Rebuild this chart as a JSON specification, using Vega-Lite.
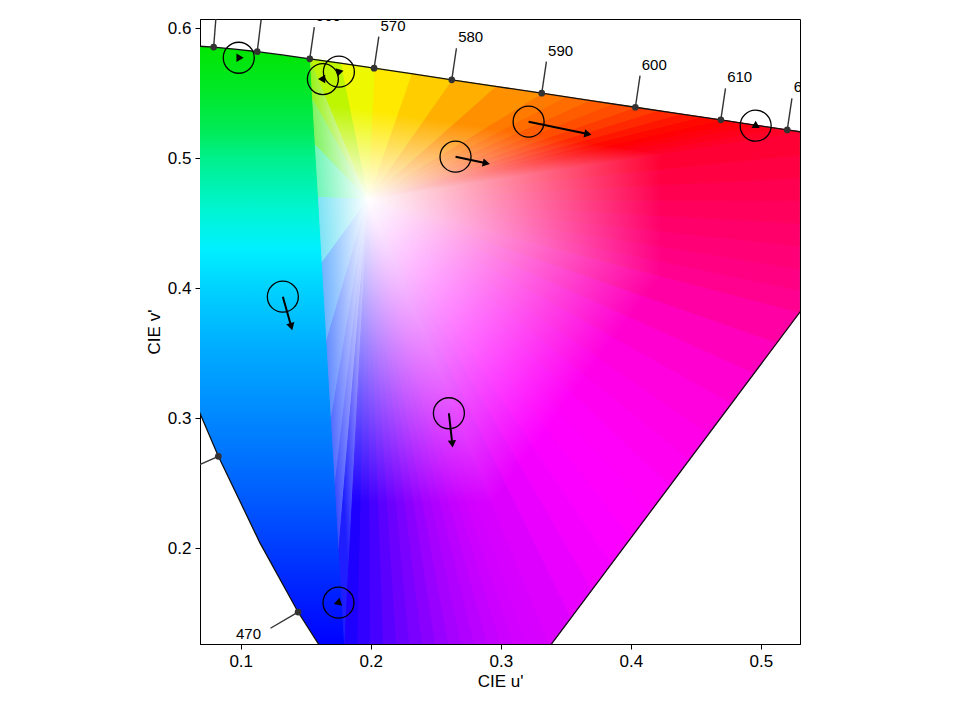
{
"$schema":"https://vega.github.io/schema/vega-lite/v6.json",
"width":600,"height":625,
"autosize":{"type":"none"},
"padding":{"left":200,"top":19,"right":162,"bottom":64},
"background":"white",
"config":{
 "view":{"stroke":"#000","strokeWidth":1},
 "axis":{"domainColor":"#000","domainWidth":1,"tickColor":"#000","tickSize":5,"labelColor":"#000","titleColor":"#000","labelFont":"Liberation Sans","titleFont":"Liberation Sans","labelFontSize":17,"titleFontSize":17,"titleFontWeight":"normal","grid":false,"labelPadding":4,"titlePadding":4}
},
"datasets":{
 "region":[
  {"u":0.066,"v":0.5865,"v2":0.3101},{"u":0.0792,"v":0.5856,"v2":0.2792},{"u":0.0828,"v":0.5853,"v2":0.2708},{"u":0.0953,"v":0.5841,"v2":0.2448},{"u":0.1127,"v":0.5821,"v2":0.2086},{"u":0.1147,"v":0.5818,"v2":0.2044},{"u":0.1319,"v":0.5796,"v2":0.1732},{"u":0.1441,"v":0.5779,"v2":0.151},{"u":0.1531,"v":0.5766,"v2":0.1369},{"u":0.1607,"v":0.5755,"v2":0.125},{"u":0.1766,"v":0.5732,"v2":0.125},{"u":0.2026,"v":0.5694,"v2":0.125},{"u":0.2312,"v":0.5651,"v2":0.125},{"u":0.2623,"v":0.5604,"v2":0.125},{"u":0.296,"v":0.5554,"v2":0.125},{"u":0.3315,"v":0.5501,"v2":0.125},{"u":0.3379,"v":0.5491,"v2":0.125},{"u":0.3681,"v":0.5446,"v2":0.1654},{"u":0.4035,"v":0.5393,"v2":0.2127},{"u":0.4379,"v":0.5342,"v2":0.2586},{"u":0.4692,"v":0.5296,"v2":0.3005},{"u":0.4968,"v":0.5254,"v2":0.3373},{"u":0.5203,"v":0.5219,"v2":0.3687},{"u":0.532,"v":0.5202,"v2":0.3844}
 ],
 "tri":[
  {"t":0,"k":0,"u":0.1978,"v":0.4683},{"t":0,"k":1,"u":0.1535,"v":0.5766},{"t":0,"k":2,"u":0.1554,"v":0.545},
  {"t":1,"k":0,"u":0.1978,"v":0.4683},{"t":1,"k":1,"u":0.1554,"v":0.545},{"t":1,"k":2,"u":0.1574,"v":0.51},
  {"t":2,"k":0,"u":0.1978,"v":0.4683},{"t":2,"k":1,"u":0.1574,"v":0.51},{"t":2,"k":2,"u":0.1598,"v":0.47},
  {"t":3,"k":0,"u":0.1978,"v":0.4683},{"t":3,"k":1,"u":0.1598,"v":0.47},{"t":3,"k":2,"u":0.1627,"v":0.42},
  {"t":4,"k":0,"u":0.1978,"v":0.4683},{"t":4,"k":1,"u":0.1627,"v":0.42},{"t":4,"k":2,"u":0.1662,"v":0.36},
  {"t":5,"k":0,"u":0.1978,"v":0.4683},{"t":5,"k":1,"u":0.1662,"v":0.36},{"t":5,"k":2,"u":0.1697,"v":0.3},
  {"t":6,"k":0,"u":0.1978,"v":0.4683},{"t":6,"k":1,"u":0.1697,"v":0.3},{"t":6,"k":2,"u":0.1727,"v":0.25},
  {"t":7,"k":0,"u":0.1978,"v":0.4683},{"t":7,"k":1,"u":0.1727,"v":0.25},{"t":7,"k":2,"u":0.1756,"v":0.2},
  {"t":8,"k":0,"u":0.1978,"v":0.4683},{"t":8,"k":1,"u":0.1756,"v":0.2},{"t":8,"k":2,"u":0.18,"v":0.125},
  {"t":9,"k":0,"u":0.1978,"v":0.4683},{"t":9,"k":1,"u":0.18,"v":0.125},{"t":9,"k":2,"u":0.19,"v":0.125},
  {"t":10,"k":0,"u":0.1978,"v":0.4683},{"t":10,"k":1,"u":0.19,"v":0.125},{"t":10,"k":2,"u":0.2,"v":0.125},
  {"t":11,"k":0,"u":0.1978,"v":0.4683},{"t":11,"k":1,"u":0.2,"v":0.125},{"t":11,"k":2,"u":0.21,"v":0.125},
  {"t":12,"k":0,"u":0.1978,"v":0.4683},{"t":12,"k":1,"u":0.21,"v":0.125},{"t":12,"k":2,"u":0.22,"v":0.125},
  {"t":13,"k":0,"u":0.1978,"v":0.4683},{"t":13,"k":1,"u":0.22,"v":0.125},{"t":13,"k":2,"u":0.23,"v":0.125},
  {"t":14,"k":0,"u":0.1978,"v":0.4683},{"t":14,"k":1,"u":0.23,"v":0.125},{"t":14,"k":2,"u":0.24,"v":0.125},
  {"t":15,"k":0,"u":0.1978,"v":0.4683},{"t":15,"k":1,"u":0.24,"v":0.125},{"t":15,"k":2,"u":0.25,"v":0.125},
  {"t":16,"k":0,"u":0.1978,"v":0.4683},{"t":16,"k":1,"u":0.25,"v":0.125},{"t":16,"k":2,"u":0.26,"v":0.125},
  {"t":17,"k":0,"u":0.1978,"v":0.4683},{"t":17,"k":1,"u":0.26,"v":0.125},{"t":17,"k":2,"u":0.27,"v":0.125},
  {"t":18,"k":0,"u":0.1978,"v":0.4683},{"t":18,"k":1,"u":0.27,"v":0.125},{"t":18,"k":2,"u":0.28,"v":0.125},
  {"t":19,"k":0,"u":0.1978,"v":0.4683},{"t":19,"k":1,"u":0.28,"v":0.125},{"t":19,"k":2,"u":0.29,"v":0.125},
  {"t":20,"k":0,"u":0.1978,"v":0.4683},{"t":20,"k":1,"u":0.29,"v":0.125},{"t":20,"k":2,"u":0.3,"v":0.125},
  {"t":21,"k":0,"u":0.1978,"v":0.4683},{"t":21,"k":1,"u":0.3,"v":0.125},{"t":21,"k":2,"u":0.31,"v":0.125},
  {"t":22,"k":0,"u":0.1978,"v":0.4683},{"t":22,"k":1,"u":0.31,"v":0.125},{"t":22,"k":2,"u":0.32,"v":0.125},
  {"t":23,"k":0,"u":0.1978,"v":0.4683},{"t":23,"k":1,"u":0.32,"v":0.125},{"t":23,"k":2,"u":0.329,"v":0.125},
  {"t":24,"k":0,"u":0.1978,"v":0.4683},{"t":24,"k":1,"u":0.329,"v":0.125},{"t":24,"k":2,"u":0.3379,"v":0.125},
  {"t":25,"k":0,"u":0.1978,"v":0.4683},{"t":25,"k":1,"u":0.3379,"v":0.125},{"t":25,"k":2,"u":0.354,"v":0.1465},
  {"t":26,"k":0,"u":0.1978,"v":0.4683},{"t":26,"k":1,"u":0.354,"v":0.1465},{"t":26,"k":2,"u":0.37,"v":0.1679},
  {"t":27,"k":0,"u":0.1978,"v":0.4683},{"t":27,"k":1,"u":0.37,"v":0.1679},{"t":27,"k":2,"u":0.385,"v":0.1879},
  {"t":28,"k":0,"u":0.1978,"v":0.4683},{"t":28,"k":1,"u":0.385,"v":0.1879},{"t":28,"k":2,"u":0.4,"v":0.208},
  {"t":29,"k":0,"u":0.1978,"v":0.4683},{"t":29,"k":1,"u":0.4,"v":0.208},{"t":29,"k":2,"u":0.415,"v":0.228},
  {"t":30,"k":0,"u":0.1978,"v":0.4683},{"t":30,"k":1,"u":0.415,"v":0.228},{"t":30,"k":2,"u":0.43,"v":0.2481},
  {"t":31,"k":0,"u":0.1978,"v":0.4683},{"t":31,"k":1,"u":0.43,"v":0.2481},{"t":31,"k":2,"u":0.445,"v":0.2681},
  {"t":32,"k":0,"u":0.1978,"v":0.4683},{"t":32,"k":1,"u":0.445,"v":0.2681},{"t":32,"k":2,"u":0.46,"v":0.2881},
  {"t":33,"k":0,"u":0.1978,"v":0.4683},{"t":33,"k":1,"u":0.46,"v":0.2881},{"t":33,"k":2,"u":0.4775,"v":0.3116},
  {"t":34,"k":0,"u":0.1978,"v":0.4683},{"t":34,"k":1,"u":0.4775,"v":0.3116},{"t":34,"k":2,"u":0.495,"v":0.3349},
  {"t":35,"k":0,"u":0.1978,"v":0.4683},{"t":35,"k":1,"u":0.495,"v":0.3349},{"t":35,"k":2,"u":0.5125,"v":0.3583},
  {"t":36,"k":0,"u":0.1978,"v":0.4683},{"t":36,"k":1,"u":0.5125,"v":0.3583},{"t":36,"k":2,"u":0.53,"v":0.3817},
  {"t":37,"k":0,"u":0.1978,"v":0.4683},{"t":37,"k":1,"u":0.53,"v":0.3817},{"t":37,"k":2,"u":0.53,"v":0.3983},
  {"t":38,"k":0,"u":0.1978,"v":0.4683},{"t":38,"k":1,"u":0.53,"v":0.3983},{"t":38,"k":2,"u":0.53,"v":0.415},
  {"t":39,"k":0,"u":0.1978,"v":0.4683},{"t":39,"k":1,"u":0.53,"v":0.415},{"t":39,"k":2,"u":0.53,"v":0.4325},
  {"t":40,"k":0,"u":0.1978,"v":0.4683},{"t":40,"k":1,"u":0.53,"v":0.4325},{"t":40,"k":2,"u":0.53,"v":0.45},
  {"t":41,"k":0,"u":0.1978,"v":0.4683},{"t":41,"k":1,"u":0.53,"v":0.45},{"t":41,"k":2,"u":0.53,"v":0.4675},
  {"t":42,"k":0,"u":0.1978,"v":0.4683},{"t":42,"k":1,"u":0.53,"v":0.4675},{"t":42,"k":2,"u":0.53,"v":0.485},
  {"t":43,"k":0,"u":0.1978,"v":0.4683},{"t":43,"k":1,"u":0.53,"v":0.485},{"t":43,"k":2,"u":0.53,"v":0.50275},
  {"t":44,"k":0,"u":0.1978,"v":0.4683},{"t":44,"k":1,"u":0.53,"v":0.50275},{"t":44,"k":2,"u":0.53,"v":0.5205},
  {"t":45,"k":0,"u":0.1978,"v":0.4683},{"t":45,"k":1,"u":0.53,"v":0.5205},{"t":45,"k":2,"u":0.5134,"v":0.5229},
  {"t":46,"k":0,"u":0.1978,"v":0.4683},{"t":46,"k":1,"u":0.5134,"v":0.5229},{"t":46,"k":2,"u":0.4968,"v":0.5254},
  {"t":47,"k":0,"u":0.1978,"v":0.4683},{"t":47,"k":1,"u":0.4968,"v":0.5254},{"t":47,"k":2,"u":0.483,"v":0.5275},
  {"t":48,"k":0,"u":0.1978,"v":0.4683},{"t":48,"k":1,"u":0.483,"v":0.5275},{"t":48,"k":2,"u":0.4692,"v":0.5296},
  {"t":49,"k":0,"u":0.1978,"v":0.4683},{"t":49,"k":1,"u":0.4692,"v":0.5296},{"t":49,"k":2,"u":0.45355,"v":0.5319},
  {"t":50,"k":0,"u":0.1978,"v":0.4683},{"t":50,"k":1,"u":0.45355,"v":0.5319},{"t":50,"k":2,"u":0.4379,"v":0.5342},
  {"t":51,"k":0,"u":0.1978,"v":0.4683},{"t":51,"k":1,"u":0.4379,"v":0.5342},{"t":51,"k":2,"u":0.4207,"v":0.53675},
  {"t":52,"k":0,"u":0.1978,"v":0.4683},{"t":52,"k":1,"u":0.4207,"v":0.53675},{"t":52,"k":2,"u":0.4035,"v":0.5393},
  {"t":53,"k":0,"u":0.1978,"v":0.4683},{"t":53,"k":1,"u":0.4035,"v":0.5393},{"t":53,"k":2,"u":0.3858,"v":0.54195},
  {"t":54,"k":0,"u":0.1978,"v":0.4683},{"t":54,"k":1,"u":0.3858,"v":0.54195},{"t":54,"k":2,"u":0.3681,"v":0.5446},
  {"t":55,"k":0,"u":0.1978,"v":0.4683},{"t":55,"k":1,"u":0.3681,"v":0.5446},{"t":55,"k":2,"u":0.3498,"v":0.54735},
  {"t":56,"k":0,"u":0.1978,"v":0.4683},{"t":56,"k":1,"u":0.3498,"v":0.54735},{"t":56,"k":2,"u":0.3315,"v":0.5501},
  {"t":57,"k":0,"u":0.1978,"v":0.4683},{"t":57,"k":1,"u":0.3315,"v":0.5501},{"t":57,"k":2,"u":0.296,"v":0.5554},
  {"t":58,"k":0,"u":0.1978,"v":0.4683},{"t":58,"k":1,"u":0.296,"v":0.5554},{"t":58,"k":2,"u":0.2623,"v":0.5604},
  {"t":59,"k":0,"u":0.1978,"v":0.4683},{"t":59,"k":1,"u":0.2623,"v":0.5604},{"t":59,"k":2,"u":0.2312,"v":0.5651},
  {"t":60,"k":0,"u":0.1978,"v":0.4683},{"t":60,"k":1,"u":0.2312,"v":0.5651},{"t":60,"k":2,"u":0.2026,"v":0.5694},
  {"t":61,"k":0,"u":0.1978,"v":0.4683},{"t":61,"k":1,"u":0.2026,"v":0.5694},{"t":61,"k":2,"u":0.1766,"v":0.5732},
  {"t":62,"k":0,"u":0.1978,"v":0.4683},{"t":62,"k":1,"u":0.1766,"v":0.5732},{"t":62,"k":2,"u":0.1535,"v":0.5766}
 ],
 "locus":[
  {"wl":455,"u":0.2033,"v":0.0688},{"wl":460,"u":0.1877,"v":0.0871},{"wl":465,"u":0.169,"v":0.112},{"wl":470,"u":0.1441,"v":0.151},{"wl":475,"u":0.1147,"v":0.2044},{"wl":480,"u":0.0828,"v":0.2708},{"wl":485,"u":0.0521,"v":0.3427},{"wl":490,"u":0.0282,"v":0.4117},{"wl":495,"u":0.0119,"v":0.4698},{"wl":500,"u":0.0035,"v":0.5131},{"wl":505,"u":0.0014,"v":0.5432},{"wl":510,"u":0.0046,"v":0.5638},{"wl":515,"u":0.0123,"v":0.577},{"wl":520,"u":0.0231,"v":0.5837},{"wl":525,"u":0.036,"v":0.5861},{"wl":530,"u":0.0501,"v":0.5868},{"wl":535,"u":0.0643,"v":0.5865},{"wl":540,"u":0.0792,"v":0.5856},{"wl":545,"u":0.0953,"v":0.5841},{"wl":550,"u":0.1127,"v":0.5821},{"wl":555,"u":0.1319,"v":0.5796},{"wl":560,"u":0.1531,"v":0.5766},{"wl":565,"u":0.1766,"v":0.5732},{"wl":570,"u":0.2026,"v":0.5694},{"wl":575,"u":0.2312,"v":0.5651},{"wl":580,"u":0.2623,"v":0.5604},{"wl":585,"u":0.296,"v":0.5554},{"wl":590,"u":0.3315,"v":0.5501},{"wl":595,"u":0.3681,"v":0.5446},{"wl":600,"u":0.4035,"v":0.5393},{"wl":605,"u":0.4379,"v":0.5342},{"wl":610,"u":0.4692,"v":0.5296},{"wl":615,"u":0.4968,"v":0.5254},{"wl":620,"u":0.5203,"v":0.5219},{"wl":625,"u":0.5399,"v":0.519},{"wl":630,"u":0.5565,"v":0.5165}
 ],
 "purple":[{"wl":380,"u":0.2568,"v":0.0166},{"wl":700,"u":0.6234,"v":0.5065}],
 "ticks":[
  {"wl":470,"u":0.1441,"v":0.151,"u2":0.1229,"v2":0.1385,"lu":0.1156,"lv":0.1342},
  {"wl":480,"u":0.0828,"v":0.2708,"u2":0.0604,"v2":0.2607,"lu":0.0526,"lv":0.2572},
  {"wl":540,"u":0.0792,"v":0.5856,"u2":0.0811,"v2":0.6101,"lu":0.0817,"lv":0.6186},
  {"wl":550,"u":0.1127,"v":0.5821,"u2":0.1157,"v2":0.6065,"lu":0.1167,"lv":0.6149},
  {"wl":560,"u":0.1531,"v":0.5766,"u2":0.1566,"v2":0.601,"lu":0.1578,"lv":0.6094},
  {"wl":570,"u":0.2026,"v":0.5694,"u2":0.2062,"v2":0.5937,"lu":0.2075,"lv":0.6021},
  {"wl":580,"u":0.2623,"v":0.5604,"u2":0.2659,"v2":0.5847,"lu":0.2672,"lv":0.5931},
  {"wl":590,"u":0.3315,"v":0.5501,"u2":0.3351,"v2":0.5744,"lu":0.3364,"lv":0.5828},
  {"wl":600,"u":0.4035,"v":0.5393,"u2":0.4071,"v2":0.5636,"lu":0.4084,"lv":0.572},
  {"wl":610,"u":0.4692,"v":0.5296,"u2":0.4728,"v2":0.5539,"lu":0.4741,"lv":0.5623},
  {"wl":620,"u":0.5203,"v":0.5219,"u2":0.5239,"v2":0.5462,"lu":0.5252,"lv":0.5546}
 ],
 "arrows":[
  {"u":0.0985,"v":0.5774,"u2":0.0995,"v2":0.5774},
  {"u":0.1632,"v":0.561,"u2":0.1622,"v2":0.561},
  {"u":0.1755,"v":0.5667,"u2":0.1752,"v2":0.5657},
  {"u":0.3214,"v":0.5282,"u2":0.367,"v2":0.5187},
  {"u":0.496,"v":0.5251,"u2":0.496,"v2":0.5261},
  {"u":0.2652,"v":0.5013,"u2":0.2889,"v2":0.4962},
  {"u":0.1324,"v":0.3936,"u2":0.1389,"v2":0.3705},
  {"u":0.2601,"v":0.3039,"u2":0.2627,"v2":0.2803},
  {"u":0.1752,"v":0.1582,"u2":0.1754,"v2":0.1592}
 ]
},
"encoding":{
 "x":{"field":"u","type":"quantitative","title":"CIE u'","scale":{"domain":[0.0687,0.5301],"nice":false,"zero":false},"axis":{"values":[0.1,0.2,0.3,0.4,0.5],"format":".1f"}},
 "y":{"field":"v","type":"quantitative","title":"CIE v'","scale":{"domain":[0.1264,0.6072],"nice":false,"zero":false},"axis":{"values":[0.2,0.3,0.4,0.5,0.6],"format":".1f"}}
},
"layer":[
 {"data":{"name":"region"},"mark":{"type":"area","clip":true,"fill":{"gradient":"linear","x1":0,"y1":0,"x2":0,"y2":1,"stops":[{"offset":0,"color":"#00e600"},{"offset":0.079,"color":"#00e82a"},{"offset":0.144,"color":"#00eb5a"},{"offset":0.187,"color":"#00f08c"},{"offset":0.274,"color":"#00f5d2"},{"offset":0.339,"color":"#00f0ff"},{"offset":0.404,"color":"#00d2ff"},{"offset":0.512,"color":"#00aaff"},{"offset":0.621,"color":"#0087ff"},{"offset":0.729,"color":"#0064ff"},{"offset":0.838,"color":"#003cff"},{"offset":0.946,"color":"#0014ff"},{"offset":1,"color":"#0000ff"}]}},"encoding":{"y2":{"field":"v2"}}},
 {"data":{"name":"tri"},"transform":[{"filter":"datum.t==0"}],"mark":{"type":"line","clip":true,"interpolate":"linear-closed","strokeWidth":1,"fill":{"gradient":"linear","x1":1,"y1":1,"x2":0.165,"y2":1.123,"stops":[{"offset":0,"color":"#ffffff"},{"offset":1,"color":"#9bf01e"}]},"stroke":{"gradient":"linear","x1":1,"y1":1,"x2":0.165,"y2":1.123,"stops":[{"offset":0,"color":"#ffffff"},{"offset":1,"color":"#9bf01e"}]}},"encoding":{"order":{"field":"k","type":"quantitative"}}},
 {"data":{"name":"tri"},"transform":[{"filter":"datum.t==1"}],"mark":{"type":"line","clip":true,"interpolate":"linear-closed","strokeWidth":1,"fill":{"gradient":"linear","x1":1,"y1":1,"x2":0.113,"y2":1.092,"stops":[{"offset":0,"color":"#ffffff"},{"offset":1,"color":"#82f364"}]},"stroke":{"gradient":"linear","x1":1,"y1":1,"x2":0.113,"y2":1.092,"stops":[{"offset":0,"color":"#ffffff"},{"offset":1,"color":"#82f364"}]}},"encoding":{"order":{"field":"k","type":"quantitative"}}},
 {"data":{"name":"tri"},"transform":[{"filter":"datum.t==2"}],"mark":{"type":"line","clip":true,"interpolate":"linear-closed","strokeWidth":1,"fill":{"gradient":"linear","x1":1,"y1":1,"x2":0.0655,"y2":1.058,"stops":[{"offset":0,"color":"#ffffff"},{"offset":1,"color":"#73f5b9"}]},"stroke":{"gradient":"linear","x1":1,"y1":1,"x2":0.0655,"y2":1.058,"stops":[{"offset":0,"color":"#ffffff"},{"offset":1,"color":"#73f5b9"}]}},"encoding":{"order":{"field":"k","type":"quantitative"}}},
 {"data":{"name":"tri"},"transform":[{"filter":"datum.t==3"}],"mark":{"type":"line","clip":true,"interpolate":"linear-closed","strokeWidth":1,"fill":{"gradient":"linear","x1":1,"y1":0.034,"x2":0.0084,"y2":0.1097,"stops":[{"offset":0,"color":"#ffffff"},{"offset":1,"color":"#7fe3f5"}]},"stroke":{"gradient":"linear","x1":1,"y1":0.034,"x2":0.0084,"y2":0.1097,"stops":[{"offset":0,"color":"#ffffff"},{"offset":1,"color":"#7fe3f5"}]}},"encoding":{"order":{"field":"k","type":"quantitative"}}},
 {"data":{"name":"tri"},"transform":[{"filter":"datum.t==4"}],"mark":{"type":"line","clip":true,"interpolate":"linear-closed","strokeWidth":1,"fill":{"gradient":"linear","x1":1,"y1":0,"x2":-0.046,"y2":0.188,"stops":[{"offset":0,"color":"#ffffff"},{"offset":1,"color":"#73b4ff"}]},"stroke":{"gradient":"linear","x1":1,"y1":0,"x2":-0.046,"y2":0.188,"stops":[{"offset":0,"color":"#ffffff"},{"offset":1,"color":"#73b4ff"}]}},"encoding":{"order":{"field":"k","type":"quantitative"}}},
 {"data":{"name":"tri"},"transform":[{"filter":"datum.t==5"}],"mark":{"type":"line","clip":true,"interpolate":"linear-closed","strokeWidth":1,"fill":{"gradient":"linear","x1":1,"y1":0,"x2":-0.094,"y2":0.34,"stops":[{"offset":0,"color":"#ffffff"},{"offset":1,"color":"#668eff"}]},"stroke":{"gradient":"linear","x1":1,"y1":0,"x2":-0.094,"y2":0.34,"stops":[{"offset":0,"color":"#ffffff"},{"offset":1,"color":"#668eff"}]}},"encoding":{"order":{"field":"k","type":"quantitative"}}},
 {"data":{"name":"tri"},"transform":[{"filter":"datum.t==6"}],"mark":{"type":"line","clip":true,"interpolate":"linear-closed","strokeWidth":1,"fill":{"gradient":"linear","x1":1,"y1":0,"x2":-0.117,"y2":0.521,"stops":[{"offset":0,"color":"#ffffff"},{"offset":1,"color":"#556eff"}]},"stroke":{"gradient":"linear","x1":1,"y1":0,"x2":-0.117,"y2":0.521,"stops":[{"offset":0,"color":"#ffffff"},{"offset":1,"color":"#556eff"}]}},"encoding":{"order":{"field":"k","type":"quantitative"}}},
 {"data":{"name":"tri"},"transform":[{"filter":"datum.t==7"}],"mark":{"type":"line","clip":true,"interpolate":"linear-closed","strokeWidth":1,"fill":{"gradient":"linear","x1":1,"y1":0,"x2":-0.087,"y2":0.673,"stops":[{"offset":0,"color":"#ffffff"},{"offset":1,"color":"#3e4eff"}]},"stroke":{"gradient":"linear","x1":1,"y1":0,"x2":-0.087,"y2":0.673,"stops":[{"offset":0,"color":"#ffffff"},{"offset":1,"color":"#3e4eff"}]}},"encoding":{"order":{"field":"k","type":"quantitative"}}},
 {"data":{"name":"tri"},"transform":[{"filter":"datum.t==8"}],"mark":{"type":"line","clip":true,"interpolate":"linear-closed","strokeWidth":1,"fill":{"gradient":"linear","x1":1,"y1":0,"x2":0.062,"y2":0.85,"stops":[{"offset":0,"color":"#ffffff"},{"offset":0.85,"color":"#1e1eff"}]},"stroke":{"gradient":"linear","x1":1,"y1":0,"x2":0.062,"y2":0.85,"stops":[{"offset":0,"color":"#ffffff"},{"offset":0.85,"color":"#1e1eff"}]}},"encoding":{"order":{"field":"k","type":"quantitative"}}},
 {"data":{"name":"tri"},"transform":[{"filter":"datum.t==9"}],"mark":{"type":"line","clip":true,"interpolate":"linear-closed","strokeWidth":1,"fill":{"gradient":"linear","x1":0,"y1":0,"x2":0,"y2":1,"stops":[{"offset":0,"color":"#ffffff"},{"offset":0.68,"color":"#1e00ff"}]},"stroke":{"gradient":"linear","x1":0,"y1":0,"x2":0,"y2":1,"stops":[{"offset":0,"color":"#ffffff"},{"offset":0.68,"color":"#1e00ff"}]}},"encoding":{"order":{"field":"k","type":"quantitative"}}},
 {"data":{"name":"tri"},"transform":[{"filter":"datum.t==10"}],"mark":{"type":"line","clip":true,"interpolate":"linear-closed","strokeWidth":1,"fill":{"gradient":"linear","x1":0,"y1":0,"x2":0,"y2":1,"stops":[{"offset":0,"color":"#ffffff"},{"offset":0.68,"color":"#3200ff"}]},"stroke":{"gradient":"linear","x1":0,"y1":0,"x2":0,"y2":1,"stops":[{"offset":0,"color":"#ffffff"},{"offset":0.68,"color":"#3200ff"}]}},"encoding":{"order":{"field":"k","type":"quantitative"}}},
 {"data":{"name":"tri"},"transform":[{"filter":"datum.t==11"}],"mark":{"type":"line","clip":true,"interpolate":"linear-closed","strokeWidth":1,"fill":{"gradient":"linear","x1":0,"y1":0,"x2":0,"y2":1,"stops":[{"offset":0,"color":"#ffffff"},{"offset":0.68,"color":"#4600ff"}]},"stroke":{"gradient":"linear","x1":0,"y1":0,"x2":0,"y2":1,"stops":[{"offset":0,"color":"#ffffff"},{"offset":0.68,"color":"#4600ff"}]}},"encoding":{"order":{"field":"k","type":"quantitative"}}},
 {"data":{"name":"tri"},"transform":[{"filter":"datum.t==12"}],"mark":{"type":"line","clip":true,"interpolate":"linear-closed","strokeWidth":1,"fill":{"gradient":"linear","x1":0,"y1":0,"x2":0,"y2":1,"stops":[{"offset":0,"color":"#ffffff"},{"offset":0.68,"color":"#5a00ff"}]},"stroke":{"gradient":"linear","x1":0,"y1":0,"x2":0,"y2":1,"stops":[{"offset":0,"color":"#ffffff"},{"offset":0.68,"color":"#5a00ff"}]}},"encoding":{"order":{"field":"k","type":"quantitative"}}},
 {"data":{"name":"tri"},"transform":[{"filter":"datum.t==13"}],"mark":{"type":"line","clip":true,"interpolate":"linear-closed","strokeWidth":1,"fill":{"gradient":"linear","x1":0,"y1":0,"x2":0,"y2":1,"stops":[{"offset":0,"color":"#ffffff"},{"offset":0.68,"color":"#6c00ff"}]},"stroke":{"gradient":"linear","x1":0,"y1":0,"x2":0,"y2":1,"stops":[{"offset":0,"color":"#ffffff"},{"offset":0.68,"color":"#6c00ff"}]}},"encoding":{"order":{"field":"k","type":"quantitative"}}},
 {"data":{"name":"tri"},"transform":[{"filter":"datum.t==14"}],"mark":{"type":"line","clip":true,"interpolate":"linear-closed","strokeWidth":1,"fill":{"gradient":"linear","x1":0,"y1":0,"x2":0,"y2":1,"stops":[{"offset":0,"color":"#ffffff"},{"offset":0.68,"color":"#7a00ff"}]},"stroke":{"gradient":"linear","x1":0,"y1":0,"x2":0,"y2":1,"stops":[{"offset":0,"color":"#ffffff"},{"offset":0.68,"color":"#7a00ff"}]}},"encoding":{"order":{"field":"k","type":"quantitative"}}},
 {"data":{"name":"tri"},"transform":[{"filter":"datum.t==15"}],"mark":{"type":"line","clip":true,"interpolate":"linear-closed","strokeWidth":1,"fill":{"gradient":"linear","x1":0,"y1":0,"x2":0,"y2":1,"stops":[{"offset":0,"color":"#ffffff"},{"offset":0.68,"color":"#8a00ff"}]},"stroke":{"gradient":"linear","x1":0,"y1":0,"x2":0,"y2":1,"stops":[{"offset":0,"color":"#ffffff"},{"offset":0.68,"color":"#8a00ff"}]}},"encoding":{"order":{"field":"k","type":"quantitative"}}},
 {"data":{"name":"tri"},"transform":[{"filter":"datum.t==16"}],"mark":{"type":"line","clip":true,"interpolate":"linear-closed","strokeWidth":1,"fill":{"gradient":"linear","x1":0,"y1":0,"x2":0,"y2":1,"stops":[{"offset":0,"color":"#ffffff"},{"offset":0.68,"color":"#9800ff"}]},"stroke":{"gradient":"linear","x1":0,"y1":0,"x2":0,"y2":1,"stops":[{"offset":0,"color":"#ffffff"},{"offset":0.68,"color":"#9800ff"}]}},"encoding":{"order":{"field":"k","type":"quantitative"}}},
 {"data":{"name":"tri"},"transform":[{"filter":"datum.t==17"}],"mark":{"type":"line","clip":true,"interpolate":"linear-closed","strokeWidth":1,"fill":{"gradient":"linear","x1":0,"y1":0,"x2":0,"y2":1,"stops":[{"offset":0,"color":"#ffffff"},{"offset":0.68,"color":"#a600ff"}]},"stroke":{"gradient":"linear","x1":0,"y1":0,"x2":0,"y2":1,"stops":[{"offset":0,"color":"#ffffff"},{"offset":0.68,"color":"#a600ff"}]}},"encoding":{"order":{"field":"k","type":"quantitative"}}},
 {"data":{"name":"tri"},"transform":[{"filter":"datum.t==18"}],"mark":{"type":"line","clip":true,"interpolate":"linear-closed","strokeWidth":1,"fill":{"gradient":"linear","x1":0,"y1":0,"x2":0,"y2":1,"stops":[{"offset":0,"color":"#ffffff"},{"offset":0.68,"color":"#b000ff"}]},"stroke":{"gradient":"linear","x1":0,"y1":0,"x2":0,"y2":1,"stops":[{"offset":0,"color":"#ffffff"},{"offset":0.68,"color":"#b000ff"}]}},"encoding":{"order":{"field":"k","type":"quantitative"}}},
 {"data":{"name":"tri"},"transform":[{"filter":"datum.t==19"}],"mark":{"type":"line","clip":true,"interpolate":"linear-closed","strokeWidth":1,"fill":{"gradient":"linear","x1":0,"y1":0,"x2":0,"y2":1,"stops":[{"offset":0,"color":"#ffffff"},{"offset":0.68,"color":"#ba00ff"}]},"stroke":{"gradient":"linear","x1":0,"y1":0,"x2":0,"y2":1,"stops":[{"offset":0,"color":"#ffffff"},{"offset":0.68,"color":"#ba00ff"}]}},"encoding":{"order":{"field":"k","type":"quantitative"}}},
 {"data":{"name":"tri"},"transform":[{"filter":"datum.t==20"}],"mark":{"type":"line","clip":true,"interpolate":"linear-closed","strokeWidth":1,"fill":{"gradient":"linear","x1":0,"y1":0,"x2":0,"y2":1,"stops":[{"offset":0,"color":"#ffffff"},{"offset":0.68,"color":"#c400ff"}]},"stroke":{"gradient":"linear","x1":0,"y1":0,"x2":0,"y2":1,"stops":[{"offset":0,"color":"#ffffff"},{"offset":0.68,"color":"#c400ff"}]}},"encoding":{"order":{"field":"k","type":"quantitative"}}},
 {"data":{"name":"tri"},"transform":[{"filter":"datum.t==21"}],"mark":{"type":"line","clip":true,"interpolate":"linear-closed","strokeWidth":1,"fill":{"gradient":"linear","x1":0,"y1":0,"x2":0,"y2":1,"stops":[{"offset":0,"color":"#ffffff"},{"offset":0.68,"color":"#cb00ff"}]},"stroke":{"gradient":"linear","x1":0,"y1":0,"x2":0,"y2":1,"stops":[{"offset":0,"color":"#ffffff"},{"offset":0.68,"color":"#cb00ff"}]}},"encoding":{"order":{"field":"k","type":"quantitative"}}},
 {"data":{"name":"tri"},"transform":[{"filter":"datum.t==22"}],"mark":{"type":"line","clip":true,"interpolate":"linear-closed","strokeWidth":1,"fill":{"gradient":"linear","x1":0,"y1":0,"x2":0,"y2":1,"stops":[{"offset":0,"color":"#ffffff"},{"offset":0.68,"color":"#d100ff"}]},"stroke":{"gradient":"linear","x1":0,"y1":0,"x2":0,"y2":1,"stops":[{"offset":0,"color":"#ffffff"},{"offset":0.68,"color":"#d100ff"}]}},"encoding":{"order":{"field":"k","type":"quantitative"}}},
 {"data":{"name":"tri"},"transform":[{"filter":"datum.t==23"}],"mark":{"type":"line","clip":true,"interpolate":"linear-closed","strokeWidth":1,"fill":{"gradient":"linear","x1":0,"y1":0,"x2":0,"y2":1,"stops":[{"offset":0,"color":"#ffffff"},{"offset":0.68,"color":"#d500ff"}]},"stroke":{"gradient":"linear","x1":0,"y1":0,"x2":0,"y2":1,"stops":[{"offset":0,"color":"#ffffff"},{"offset":0.68,"color":"#d500ff"}]}},"encoding":{"order":{"field":"k","type":"quantitative"}}},
 {"data":{"name":"tri"},"transform":[{"filter":"datum.t==24"}],"mark":{"type":"line","clip":true,"interpolate":"linear-closed","strokeWidth":1,"fill":{"gradient":"linear","x1":0,"y1":0,"x2":0,"y2":1,"stops":[{"offset":0,"color":"#ffffff"},{"offset":0.68,"color":"#d700ff"}]},"stroke":{"gradient":"linear","x1":0,"y1":0,"x2":0,"y2":1,"stops":[{"offset":0,"color":"#ffffff"},{"offset":0.68,"color":"#d700ff"}]}},"encoding":{"order":{"field":"k","type":"quantitative"}}},
 {"data":{"name":"tri"},"transform":[{"filter":"datum.t==25"}],"mark":{"type":"line","clip":true,"interpolate":"linear-closed","strokeWidth":1,"fill":{"gradient":"linear","x1":0,"y1":0,"x2":0.685,"y2":1.129,"stops":[{"offset":0,"color":"#ffffff"},{"offset":0.68,"color":"#de00ff"}]},"stroke":{"gradient":"linear","x1":0,"y1":0,"x2":0.685,"y2":1.129,"stops":[{"offset":0,"color":"#ffffff"},{"offset":0.68,"color":"#de00ff"}]}},"encoding":{"order":{"field":"k","type":"quantitative"}}},
 {"data":{"name":"tri"},"transform":[{"filter":"datum.t==26"}],"mark":{"type":"line","clip":true,"interpolate":"linear-closed","strokeWidth":1,"fill":{"gradient":"linear","x1":0,"y1":0,"x2":0.78,"y2":1.091,"stops":[{"offset":0,"color":"#ffffff"},{"offset":0.68,"color":"#ea00ff"}]},"stroke":{"gradient":"linear","x1":0,"y1":0,"x2":0.78,"y2":1.091,"stops":[{"offset":0,"color":"#ffffff"},{"offset":0.68,"color":"#ea00ff"}]}},"encoding":{"order":{"field":"k","type":"quantitative"}}},
 {"data":{"name":"tri"},"transform":[{"filter":"datum.t==27"}],"mark":{"type":"line","clip":true,"interpolate":"linear-closed","strokeWidth":1,"fill":{"gradient":"linear","x1":0,"y1":0,"x2":0.868,"y2":1.044,"stops":[{"offset":0,"color":"#ffffff"},{"offset":0.68,"color":"#f400ff"}]},"stroke":{"gradient":"linear","x1":0,"y1":0,"x2":0.868,"y2":1.044,"stops":[{"offset":0,"color":"#ffffff"},{"offset":0.68,"color":"#f400ff"}]}},"encoding":{"order":{"field":"k","type":"quantitative"}}},
 {"data":{"name":"tri"},"transform":[{"filter":"datum.t==28"}],"mark":{"type":"line","clip":true,"interpolate":"linear-closed","strokeWidth":1,"fill":{"gradient":"linear","x1":0,"y1":0,"x2":0.947,"y2":0.98,"stops":[{"offset":0,"color":"#ffffff"},{"offset":0.68,"color":"#fc00ff"}]},"stroke":{"gradient":"linear","x1":0,"y1":0,"x2":0.947,"y2":0.98,"stops":[{"offset":0,"color":"#ffffff"},{"offset":0.68,"color":"#fc00ff"}]}},"encoding":{"order":{"field":"k","type":"quantitative"}}},
 {"data":{"name":"tri"},"transform":[{"filter":"datum.t==29"}],"mark":{"type":"line","clip":true,"interpolate":"linear-closed","strokeWidth":1,"fill":{"gradient":"linear","x1":0,"y1":0,"x2":1.012,"y2":0.91,"stops":[{"offset":0,"color":"#ffffff"},{"offset":0.68,"color":"#ff00fc"}]},"stroke":{"gradient":"linear","x1":0,"y1":0,"x2":1.012,"y2":0.91,"stops":[{"offset":0,"color":"#ffffff"},{"offset":0.68,"color":"#ff00fc"}]}},"encoding":{"order":{"field":"k","type":"quantitative"}}},
 {"data":{"name":"tri"},"transform":[{"filter":"datum.t==30"}],"mark":{"type":"line","clip":true,"interpolate":"linear-closed","strokeWidth":1,"fill":{"gradient":"linear","x1":0,"y1":0,"x2":1.07,"y2":0.826,"stops":[{"offset":0,"color":"#ffffff"},{"offset":0.68,"color":"#ff00f8"}]},"stroke":{"gradient":"linear","x1":0,"y1":0,"x2":1.07,"y2":0.826,"stops":[{"offset":0,"color":"#ffffff"},{"offset":0.68,"color":"#ff00f8"}]}},"encoding":{"order":{"field":"k","type":"quantitative"}}},
 {"data":{"name":"tri"},"transform":[{"filter":"datum.t==31"}],"mark":{"type":"line","clip":true,"interpolate":"linear-closed","strokeWidth":1,"fill":{"gradient":"linear","x1":0,"y1":0,"x2":1.111,"y2":0.743,"stops":[{"offset":0,"color":"#ffffff"},{"offset":0.68,"color":"#ff00f1"}]},"stroke":{"gradient":"linear","x1":0,"y1":0,"x2":1.111,"y2":0.743,"stops":[{"offset":0,"color":"#ffffff"},{"offset":0.68,"color":"#ff00f1"}]}},"encoding":{"order":{"field":"k","type":"quantitative"}}},
 {"data":{"name":"tri"},"transform":[{"filter":"datum.t==32"}],"mark":{"type":"line","clip":true,"interpolate":"linear-closed","strokeWidth":1,"fill":{"gradient":"linear","x1":0,"y1":0,"x2":1.141,"y2":0.653,"stops":[{"offset":0,"color":"#ffffff"},{"offset":0.68,"color":"#ff00e8"}]},"stroke":{"gradient":"linear","x1":0,"y1":0,"x2":1.141,"y2":0.653,"stops":[{"offset":0,"color":"#ffffff"},{"offset":0.68,"color":"#ff00e8"}]}},"encoding":{"order":{"field":"k","type":"quantitative"}}},
 {"data":{"name":"tri"},"transform":[{"filter":"datum.t==33"}],"mark":{"type":"line","clip":true,"interpolate":"linear-closed","strokeWidth":1,"fill":{"gradient":"linear","x1":0,"y1":0,"x2":1.152,"y2":0.553,"stops":[{"offset":0,"color":"#ffffff"},{"offset":0.68,"color":"#ff00de"}]},"stroke":{"gradient":"linear","x1":0,"y1":0,"x2":1.152,"y2":0.553,"stops":[{"offset":0,"color":"#ffffff"},{"offset":0.68,"color":"#ff00de"}]}},"encoding":{"order":{"field":"k","type":"quantitative"}}},
 {"data":{"name":"tri"},"transform":[{"filter":"datum.t==34"}],"mark":{"type":"line","clip":true,"interpolate":"linear-closed","strokeWidth":1,"fill":{"gradient":"linear","x1":0,"y1":0,"x2":1.156,"y2":0.458,"stops":[{"offset":0,"color":"#ffffff"},{"offset":0.68,"color":"#ff00d0"}]},"stroke":{"gradient":"linear","x1":0,"y1":0,"x2":1.156,"y2":0.458,"stops":[{"offset":0,"color":"#ffffff"},{"offset":0.68,"color":"#ff00d0"}]}},"encoding":{"order":{"field":"k","type":"quantitative"}}},
 {"data":{"name":"tri"},"transform":[{"filter":"datum.t==35"}],"mark":{"type":"line","clip":true,"interpolate":"linear-closed","strokeWidth":1,"fill":{"gradient":"linear","x1":0,"y1":0,"x2":1.146,"y2":0.363,"stops":[{"offset":0,"color":"#ffffff"},{"offset":0.68,"color":"#ff00bd"}]},"stroke":{"gradient":"linear","x1":0,"y1":0,"x2":1.146,"y2":0.363,"stops":[{"offset":0,"color":"#ffffff"},{"offset":0.68,"color":"#ff00bd"}]}},"encoding":{"order":{"field":"k","type":"quantitative"}}},
 {"data":{"name":"tri"},"transform":[{"filter":"datum.t==36"}],"mark":{"type":"line","clip":true,"interpolate":"linear-closed","strokeWidth":1,"fill":{"gradient":"linear","x1":0,"y1":0,"x2":1.126,"y2":0.279,"stops":[{"offset":0,"color":"#ffffff"},{"offset":0.68,"color":"#ff00a4"}]},"stroke":{"gradient":"linear","x1":0,"y1":0,"x2":1.126,"y2":0.279,"stops":[{"offset":0,"color":"#ffffff"},{"offset":0.68,"color":"#ff00a4"}]}},"encoding":{"order":{"field":"k","type":"quantitative"}}},
 {"data":{"name":"tri"},"transform":[{"filter":"datum.t==37"}],"mark":{"type":"line","clip":true,"interpolate":"linear-closed","strokeWidth":1,"fill":{"gradient":"linear","x1":0,"y1":0.5,"x2":1,"y2":0.5,"stops":[{"offset":0,"color":"#ffffff"},{"offset":0.68,"color":"#ff008f"}]},"stroke":{"gradient":"linear","x1":0,"y1":0.5,"x2":1,"y2":0.5,"stops":[{"offset":0,"color":"#ffffff"},{"offset":0.68,"color":"#ff008f"}]}},"encoding":{"order":{"field":"k","type":"quantitative"}}},
 {"data":{"name":"tri"},"transform":[{"filter":"datum.t==38"}],"mark":{"type":"line","clip":true,"interpolate":"linear-closed","strokeWidth":1,"fill":{"gradient":"linear","x1":0,"y1":0.5,"x2":1,"y2":0.5,"stops":[{"offset":0,"color":"#ffffff"},{"offset":0.68,"color":"#ff0083"}]},"stroke":{"gradient":"linear","x1":0,"y1":0.5,"x2":1,"y2":0.5,"stops":[{"offset":0,"color":"#ffffff"},{"offset":0.68,"color":"#ff0083"}]}},"encoding":{"order":{"field":"k","type":"quantitative"}}},
 {"data":{"name":"tri"},"transform":[{"filter":"datum.t==39"}],"mark":{"type":"line","clip":true,"interpolate":"linear-closed","strokeWidth":1,"fill":{"gradient":"linear","x1":0,"y1":0.5,"x2":1,"y2":0.5,"stops":[{"offset":0,"color":"#ffffff"},{"offset":0.68,"color":"#ff0076"}]},"stroke":{"gradient":"linear","x1":0,"y1":0.5,"x2":1,"y2":0.5,"stops":[{"offset":0,"color":"#ffffff"},{"offset":0.68,"color":"#ff0076"}]}},"encoding":{"order":{"field":"k","type":"quantitative"}}},
 {"data":{"name":"tri"},"transform":[{"filter":"datum.t==40"}],"mark":{"type":"line","clip":true,"interpolate":"linear-closed","strokeWidth":1,"fill":{"gradient":"linear","x1":0,"y1":0.5,"x2":1,"y2":0.5,"stops":[{"offset":0,"color":"#ffffff"},{"offset":0.68,"color":"#ff006a"}]},"stroke":{"gradient":"linear","x1":0,"y1":0.5,"x2":1,"y2":0.5,"stops":[{"offset":0,"color":"#ffffff"},{"offset":0.68,"color":"#ff006a"}]}},"encoding":{"order":{"field":"k","type":"quantitative"}}},
 {"data":{"name":"tri"},"transform":[{"filter":"datum.t==41"}],"mark":{"type":"line","clip":true,"interpolate":"linear-closed","strokeWidth":1,"fill":{"gradient":"linear","x1":0,"y1":0.5,"x2":1,"y2":0.5,"stops":[{"offset":0,"color":"#ffffff"},{"offset":0.68,"color":"#ff005d"}]},"stroke":{"gradient":"linear","x1":0,"y1":0.5,"x2":1,"y2":0.5,"stops":[{"offset":0,"color":"#ffffff"},{"offset":0.68,"color":"#ff005d"}]}},"encoding":{"order":{"field":"k","type":"quantitative"}}},
 {"data":{"name":"tri"},"transform":[{"filter":"datum.t==42"}],"mark":{"type":"line","clip":true,"interpolate":"linear-closed","strokeWidth":1,"fill":{"gradient":"linear","x1":0,"y1":0.5,"x2":1,"y2":0.5,"stops":[{"offset":0,"color":"#ffffff"},{"offset":0.68,"color":"#ff0051"}]},"stroke":{"gradient":"linear","x1":0,"y1":0.5,"x2":1,"y2":0.5,"stops":[{"offset":0,"color":"#ffffff"},{"offset":0.68,"color":"#ff0051"}]}},"encoding":{"order":{"field":"k","type":"quantitative"}}},
 {"data":{"name":"tri"},"transform":[{"filter":"datum.t==43"}],"mark":{"type":"line","clip":true,"interpolate":"linear-closed","strokeWidth":1,"fill":{"gradient":"linear","x1":0,"y1":0.5,"x2":1,"y2":0.5,"stops":[{"offset":0,"color":"#ffffff"},{"offset":0.68,"color":"#ff0043"}]},"stroke":{"gradient":"linear","x1":0,"y1":0.5,"x2":1,"y2":0.5,"stops":[{"offset":0,"color":"#ffffff"},{"offset":0.68,"color":"#ff0043"}]}},"encoding":{"order":{"field":"k","type":"quantitative"}}},
 {"data":{"name":"tri"},"transform":[{"filter":"datum.t==44"}],"mark":{"type":"line","clip":true,"interpolate":"linear-closed","strokeWidth":1,"fill":{"gradient":"linear","x1":0,"y1":0.5,"x2":1,"y2":0.5,"stops":[{"offset":0,"color":"#ffffff"},{"offset":0.68,"color":"#ff0034"}]},"stroke":{"gradient":"linear","x1":0,"y1":0.5,"x2":1,"y2":0.5,"stops":[{"offset":0,"color":"#ffffff"},{"offset":0.68,"color":"#ff0034"}]}},"encoding":{"order":{"field":"k","type":"quantitative"}}},
 {"data":{"name":"tri"},"transform":[{"filter":"datum.t==45"}],"mark":{"type":"line","clip":true,"interpolate":"linear-closed","strokeWidth":1,"fill":{"gradient":"linear","x1":0,"y1":1,"x2":0.91,"y2":-0.035,"stops":[{"offset":0,"color":"#ffffff"},{"offset":0.68,"color":"#ff0026"}]},"stroke":{"gradient":"linear","x1":0,"y1":1,"x2":0.91,"y2":-0.035,"stops":[{"offset":0,"color":"#ffffff"},{"offset":0.68,"color":"#ff0026"}]}},"encoding":{"order":{"field":"k","type":"quantitative"}}},
 {"data":{"name":"tri"},"transform":[{"filter":"datum.t==46"}],"mark":{"type":"line","clip":true,"interpolate":"linear-closed","strokeWidth":1,"fill":{"gradient":"linear","x1":0,"y1":1,"x2":0.88,"y2":-0.056,"stops":[{"offset":0,"color":"#ffffff"},{"offset":0.68,"color":"#ff001a"}]},"stroke":{"gradient":"linear","x1":0,"y1":1,"x2":0.88,"y2":-0.056,"stops":[{"offset":0,"color":"#ffffff"},{"offset":0.68,"color":"#ff001a"}]}},"encoding":{"order":{"field":"k","type":"quantitative"}}},
 {"data":{"name":"tri"},"transform":[{"filter":"datum.t==47"}],"mark":{"type":"line","clip":true,"interpolate":"linear-closed","strokeWidth":1,"fill":{"gradient":"linear","x1":0,"y1":1,"x2":0.837,"y2":-0.09,"stops":[{"offset":0,"color":"#ffffff"},{"offset":0.68,"color":"#ff000f"}]},"stroke":{"gradient":"linear","x1":0,"y1":1,"x2":0.837,"y2":-0.09,"stops":[{"offset":0,"color":"#ffffff"},{"offset":0.68,"color":"#ff000f"}]}},"encoding":{"order":{"field":"k","type":"quantitative"}}},
 {"data":{"name":"tri"},"transform":[{"filter":"datum.t==48"}],"mark":{"type":"line","clip":true,"interpolate":"linear-closed","strokeWidth":1,"fill":{"gradient":"linear","x1":0,"y1":1,"x2":0.79,"y2":-0.115,"stops":[{"offset":0,"color":"#ffffff"},{"offset":0.68,"color":"#ff0005"}]},"stroke":{"gradient":"linear","x1":0,"y1":1,"x2":0.79,"y2":-0.115,"stops":[{"offset":0,"color":"#ffffff"},{"offset":0.68,"color":"#ff0005"}]}},"encoding":{"order":{"field":"k","type":"quantitative"}}},
 {"data":{"name":"tri"},"transform":[{"filter":"datum.t==49"}],"mark":{"type":"line","clip":true,"interpolate":"linear-closed","strokeWidth":1,"fill":{"gradient":"linear","x1":0,"y1":1,"x2":0.716,"y2":-0.142,"stops":[{"offset":0,"color":"#ffffff"},{"offset":0.68,"color":"#ff0800"}]},"stroke":{"gradient":"linear","x1":0,"y1":1,"x2":0.716,"y2":-0.142,"stops":[{"offset":0,"color":"#ffffff"},{"offset":0.68,"color":"#ff0800"}]}},"encoding":{"order":{"field":"k","type":"quantitative"}}},
 {"data":{"name":"tri"},"transform":[{"filter":"datum.t==50"}],"mark":{"type":"line","clip":true,"interpolate":"linear-closed","strokeWidth":1,"fill":{"gradient":"linear","x1":0,"y1":1,"x2":0.661,"y2":-0.159,"stops":[{"offset":0,"color":"#ffffff"},{"offset":0.68,"color":"#ff1600"}]},"stroke":{"gradient":"linear","x1":0,"y1":1,"x2":0.661,"y2":-0.159,"stops":[{"offset":0,"color":"#ffffff"},{"offset":0.68,"color":"#ff1600"}]}},"encoding":{"order":{"field":"k","type":"quantitative"}}},
 {"data":{"name":"tri"},"transform":[{"filter":"datum.t==51"}],"mark":{"type":"line","clip":true,"interpolate":"linear-closed","strokeWidth":1,"fill":{"gradient":"linear","x1":0,"y1":1,"x2":0.608,"y2":-0.167,"stops":[{"offset":0,"color":"#ffffff"},{"offset":0.68,"color":"#ff2800"}]},"stroke":{"gradient":"linear","x1":0,"y1":1,"x2":0.608,"y2":-0.167,"stops":[{"offset":0,"color":"#ffffff"},{"offset":0.68,"color":"#ff2800"}]}},"encoding":{"order":{"field":"k","type":"quantitative"}}},
 {"data":{"name":"tri"},"transform":[{"filter":"datum.t==52"}],"mark":{"type":"line","clip":true,"interpolate":"linear-closed","strokeWidth":1,"fill":{"gradient":"linear","x1":0,"y1":1,"x2":0.547,"y2":-0.175,"stops":[{"offset":0,"color":"#ffffff"},{"offset":0.68,"color":"#ff3c00"}]},"stroke":{"gradient":"linear","x1":0,"y1":1,"x2":0.547,"y2":-0.175,"stops":[{"offset":0,"color":"#ffffff"},{"offset":0.68,"color":"#ff3c00"}]}},"encoding":{"order":{"field":"k","type":"quantitative"}}},
 {"data":{"name":"tri"},"transform":[{"filter":"datum.t==53"}],"mark":{"type":"line","clip":true,"interpolate":"linear-closed","strokeWidth":1,"fill":{"gradient":"linear","x1":0,"y1":1,"x2":0.493,"y2":-0.176,"stops":[{"offset":0,"color":"#ffffff"},{"offset":0.68,"color":"#ff4e00"}]},"stroke":{"gradient":"linear","x1":0,"y1":1,"x2":0.493,"y2":-0.176,"stops":[{"offset":0,"color":"#ffffff"},{"offset":0.68,"color":"#ff4e00"}]}},"encoding":{"order":{"field":"k","type":"quantitative"}}},
 {"data":{"name":"tri"},"transform":[{"filter":"datum.t==54"}],"mark":{"type":"line","clip":true,"interpolate":"linear-closed","strokeWidth":1,"fill":{"gradient":"linear","x1":0,"y1":1,"x2":0.433,"y2":-0.175,"stops":[{"offset":0,"color":"#ffffff"},{"offset":0.68,"color":"#ff5c00"}]},"stroke":{"gradient":"linear","x1":0,"y1":1,"x2":0.433,"y2":-0.175,"stops":[{"offset":0,"color":"#ffffff"},{"offset":0.68,"color":"#ff5c00"}]}},"encoding":{"order":{"field":"k","type":"quantitative"}}},
 {"data":{"name":"tri"},"transform":[{"filter":"datum.t==55"}],"mark":{"type":"line","clip":true,"interpolate":"linear-closed","strokeWidth":1,"fill":{"gradient":"linear","x1":0,"y1":1,"x2":0.378,"y2":-0.167,"stops":[{"offset":0,"color":"#ffffff"},{"offset":0.68,"color":"#ff6c00"}]},"stroke":{"gradient":"linear","x1":0,"y1":1,"x2":0.378,"y2":-0.167,"stops":[{"offset":0,"color":"#ffffff"},{"offset":0.68,"color":"#ff6c00"}]}},"encoding":{"order":{"field":"k","type":"quantitative"}}},
 {"data":{"name":"tri"},"transform":[{"filter":"datum.t==56"}],"mark":{"type":"line","clip":true,"interpolate":"linear-closed","strokeWidth":1,"fill":{"gradient":"linear","x1":0,"y1":1,"x2":0.323,"y2":-0.155,"stops":[{"offset":0,"color":"#ffffff"},{"offset":0.68,"color":"#ff7a00"}]},"stroke":{"gradient":"linear","x1":0,"y1":1,"x2":0.323,"y2":-0.155,"stops":[{"offset":0,"color":"#ffffff"},{"offset":0.68,"color":"#ff7a00"}]}},"encoding":{"order":{"field":"k","type":"quantitative"}}},
 {"data":{"name":"tri"},"transform":[{"filter":"datum.t==57"}],"mark":{"type":"line","clip":true,"interpolate":"linear-closed","strokeWidth":1,"fill":{"gradient":"linear","x1":0,"y1":1,"x2":0.254,"y2":-0.11,"stops":[{"offset":0,"color":"#ffffff"},{"offset":0.68,"color":"#ff9100"}]},"stroke":{"gradient":"linear","x1":0,"y1":1,"x2":0.254,"y2":-0.11,"stops":[{"offset":0,"color":"#ffffff"},{"offset":0.68,"color":"#ff9100"}]}},"encoding":{"order":{"field":"k","type":"quantitative"}}},
 {"data":{"name":"tri"},"transform":[{"filter":"datum.t==58"}],"mark":{"type":"line","clip":true,"interpolate":"linear-closed","strokeWidth":1,"fill":{"gradient":"linear","x1":0,"y1":1,"x2":0.17,"y2":-0.077,"stops":[{"offset":0,"color":"#ffffff"},{"offset":0.68,"color":"#ffaf00"}]},"stroke":{"gradient":"linear","x1":0,"y1":1,"x2":0.17,"y2":-0.077,"stops":[{"offset":0,"color":"#ffffff"},{"offset":0.68,"color":"#ffaf00"}]}},"encoding":{"order":{"field":"k","type":"quantitative"}}},
 {"data":{"name":"tri"},"transform":[{"filter":"datum.t==59"}],"mark":{"type":"line","clip":true,"interpolate":"linear-closed","strokeWidth":1,"fill":{"gradient":"linear","x1":0,"y1":1,"x2":0.105,"y2":-0.042,"stops":[{"offset":0,"color":"#ffffff"},{"offset":0.68,"color":"#ffcd00"}]},"stroke":{"gradient":"linear","x1":0,"y1":1,"x2":0.105,"y2":-0.042,"stops":[{"offset":0,"color":"#ffffff"},{"offset":0.68,"color":"#ffcd00"}]}},"encoding":{"order":{"field":"k","type":"quantitative"}}},
 {"data":{"name":"tri"},"transform":[{"filter":"datum.t==60"}],"mark":{"type":"line","clip":true,"interpolate":"linear-closed","strokeWidth":1,"fill":{"gradient":"linear","x1":0,"y1":1,"x2":0.05,"y2":-0.005,"stops":[{"offset":0,"color":"#ffffff"},{"offset":0.68,"color":"#ffe900"}]},"stroke":{"gradient":"linear","x1":0,"y1":1,"x2":0.05,"y2":-0.005,"stops":[{"offset":0,"color":"#ffffff"},{"offset":0.68,"color":"#ffe900"}]}},"encoding":{"order":{"field":"k","type":"quantitative"}}},
 {"data":{"name":"tri"},"transform":[{"filter":"datum.t==61"}],"mark":{"type":"line","clip":true,"interpolate":"linear-closed","strokeWidth":1,"fill":{"gradient":"linear","x1":0.815,"y1":1,"x2":0.85,"y2":0.031,"stops":[{"offset":0,"color":"#ffffff"},{"offset":0.68,"color":"#eef800"}]},"stroke":{"gradient":"linear","x1":0.815,"y1":1,"x2":0.85,"y2":0.031,"stops":[{"offset":0,"color":"#ffffff"},{"offset":0.68,"color":"#eef800"}]}},"encoding":{"order":{"field":"k","type":"quantitative"}}},
 {"data":{"name":"tri"},"transform":[{"filter":"datum.t==62"}],"mark":{"type":"line","clip":true,"interpolate":"linear-closed","strokeWidth":1,"fill":{"gradient":"linear","x1":1,"y1":1,"x2":1.056,"y2":0.064,"stops":[{"offset":0,"color":"#ffffff"},{"offset":0.68,"color":"#bef500"}]},"stroke":{"gradient":"linear","x1":1,"y1":1,"x2":1.056,"y2":0.064,"stops":[{"offset":0,"color":"#ffffff"},{"offset":0.68,"color":"#bef500"}]}},"encoding":{"order":{"field":"k","type":"quantitative"}}},
 {"data":{"name":"locus"},"mark":{"type":"line","clip":true,"stroke":"#111","strokeWidth":1.3},"encoding":{"order":{"field":"wl","type":"quantitative"}}},
 {"data":{"name":"purple"},"mark":{"type":"line","clip":true,"stroke":"#111","strokeWidth":1.3},"encoding":{"order":{"field":"wl","type":"quantitative"}}},
 {"data":{"name":"ticks"},"mark":{"type":"rule","clip":true,"stroke":"#333","strokeWidth":1.4},"encoding":{"x2":{"field":"u2"},"y2":{"field":"v2"}}},
 {"data":{"name":"ticks"},"mark":{"type":"point","clip":true,"filled":true,"fill":"#333","stroke":null,"opacity":1,"size":45},"encoding":{}},
 {"data":{"name":"ticks"},"transform":[{"filter":"datum.wl>=560"}],"mark":{"type":"text","clip":true,"align":"left","baseline":"middle","font":"Liberation Sans","fontSize":15,"color":"#000"},"encoding":{"x":{"field":"lu","type":"quantitative","title":"CIE u'"},"y":{"field":"lv","type":"quantitative","title":"CIE v'"},"text":{"field":"wl","type":"quantitative","format":"d"}}},
 {"data":{"name":"ticks"},"transform":[{"filter":"datum.wl==470"}],"mark":{"type":"text","clip":true,"align":"right","baseline":"middle","font":"Liberation Sans","fontSize":15,"color":"#000"},"encoding":{"x":{"field":"lu","type":"quantitative","title":"CIE u'"},"y":{"field":"lv","type":"quantitative","title":"CIE v'"},"text":{"field":"wl","type":"quantitative","format":"d"}}},
 {"data":{"name":"arrows"},"mark":{"type":"point","clip":true,"shape":"circle","filled":false,"stroke":"#000","strokeWidth":1.3,"opacity":1,"size":961},"encoding":{}},
 {"data":{"name":"arrows"},"mark":{"type":"rule","clip":true,"stroke":"#000","strokeWidth":2},"encoding":{"x2":{"field":"u2"},"y2":{"field":"v2"}}},
 {"data":{"name":"arrows"},"transform":[{"calculate":"atan2(datum.u2-datum.u, datum.v2-datum.v)*180/PI","as":"ang"}],"mark":{"type":"point","clip":true,"shape":"triangle-up","filled":true,"fill":"#000","stroke":null,"opacity":1,"size":70},"encoding":{"x":{"field":"u2","type":"quantitative","title":"CIE u'"},"y":{"field":"v2","type":"quantitative","title":"CIE v'"},"angle":{"field":"ang","type":"quantitative","scale":null}}}
]
}
